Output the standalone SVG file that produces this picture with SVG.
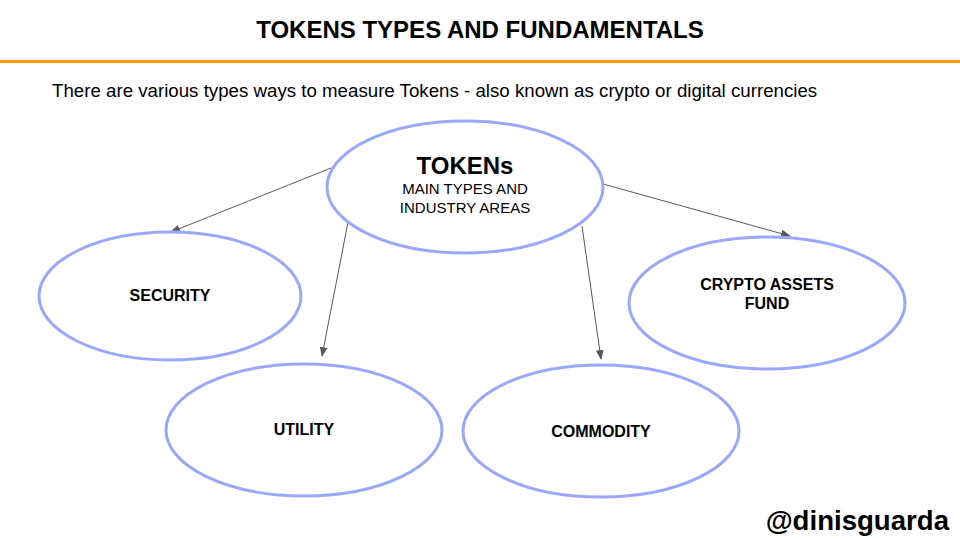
<svg xmlns="http://www.w3.org/2000/svg" width="960" height="540" viewBox="0 0 960 540">
<defs>
<marker id="ah" markerWidth="10" markerHeight="8" refX="9" refY="4" orient="auto" markerUnits="userSpaceOnUse">
<path d="M0,0 L10,4 L0,8 Z" fill="#595959"/>
</marker>
<style>
.node{fill:#ffffff;stroke:#9aa8fb;stroke-width:3}
.lbl{font-family:"Liberation Sans",Arial,sans-serif;font-weight:bold;font-size:16px;fill:#000;text-anchor:middle}
.conn{stroke:#595959;stroke-width:1;fill:none;marker-end:url(#ah)}
</style>
</defs>
<rect width="960" height="540" fill="#ffffff"/>
<text x="480" y="38" font-family="'Liberation Sans',Arial,sans-serif" font-weight="bold" font-size="24" text-anchor="middle">TOKENS TYPES AND FUNDAMENTALS</text>
<line x1="0" y1="61.5" x2="960" y2="61.5" stroke="#ff9900" stroke-width="3"/>
<text x="52" y="97" font-family="'Liberation Sans',Arial,sans-serif" font-size="18.7">There are various types ways to measure Tokens - also known as crypto or digital currencies</text>
<g id="connectors">
<line class="conn" x1="331" y1="168" x2="171" y2="232"/>
<line class="conn" x1="348" y1="222" x2="322" y2="356"/>
<line class="conn" x1="582" y1="226" x2="601" y2="359"/>
<line class="conn" x1="603" y1="184" x2="790" y2="236"/>
</g>
<g id="tokens">
<ellipse class="node" cx="465" cy="187" rx="138" ry="66"/>
<text x="465" y="174" font-family="'Liberation Sans',Arial,sans-serif" font-weight="bold" font-size="24" text-anchor="middle">TOKENs</text>
<text x="465" y="194" font-family="'Liberation Sans',Arial,sans-serif" font-size="15" text-anchor="middle">MAIN TYPES AND</text>
<text x="465" y="213" font-family="'Liberation Sans',Arial,sans-serif" font-size="15" text-anchor="middle">INDUSTRY AREAS</text>
</g>
<g id="security">
<ellipse class="node" cx="170" cy="296" rx="131" ry="64"/>
<text class="lbl" x="170" y="301">SECURITY</text>
</g>
<g id="utility">
<ellipse class="node" cx="304" cy="430" rx="138" ry="66"/>
<text class="lbl" x="304" y="435">UTILITY</text>
</g>
<g id="commodity">
<ellipse class="node" cx="601" cy="431" rx="138" ry="66"/>
<text class="lbl" x="601" y="437">COMMODITY</text>
</g>
<g id="crypto">
<ellipse class="node" cx="767" cy="303" rx="138" ry="66"/>
<text class="lbl" x="767" y="290">CRYPTO ASSETS</text>
<text class="lbl" x="767" y="309">FUND</text>
</g>
<text x="949" y="530" font-family="'Liberation Sans',Arial,sans-serif" font-weight="bold" font-size="27.6" text-anchor="end">@dinisguarda</text>
</svg>
